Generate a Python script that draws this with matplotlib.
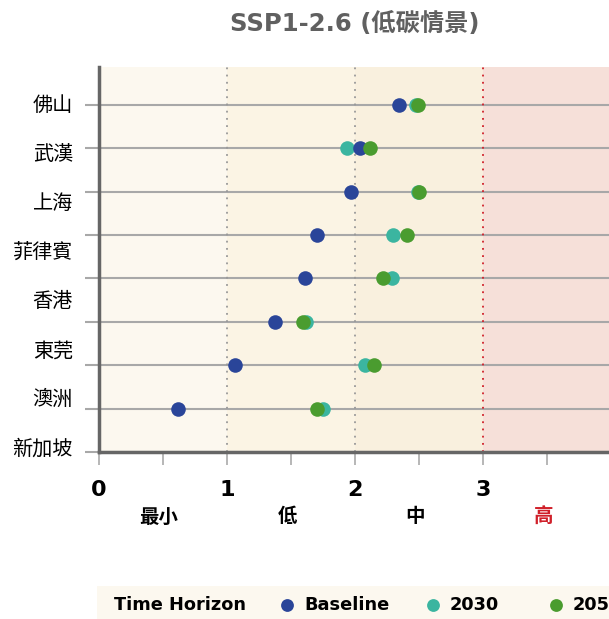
import numpy as np
import matplotlib.pyplot as plt
import matplotlib.transforms as mtransforms

# Data
cities = ["佛山", "武漢", "上海", "菲律賓", "香港", "東莞", "澳洲", "新加坡"]
baseline = [2.34, 2.04, 1.97, 1.70, 1.61, 1.375, 1.06, 0.62]
y2030 = [2.48, 1.935, 2.49, 2.30, 2.29, 1.62, 2.08, 1.75]
y2050 = [2.49, 2.12, 2.50, 2.41, 2.22, 1.59, 2.15, 1.70]
risk_levels = ["最小", "低", "中", "高"]
risk_colors = ["black", "black", "black", "#d0202a"]
band_colors = ["#fcf8ef", "#fbf4e4", "#f9f0de", "#f6e0d9"]

c_base, c_2030, c_2050 = "#2a4599", "#3bb5a0", "#4a9c2f"
latin = ["DejaVu Sans", "Noto Sans CJK TC"]
cjk = ["Noto Sans CJK TC", "DejaVu Sans"]

fig = plt.figure(figsize=(6.09, 6.19), dpi=100)
ax = fig.add_axes([99 / 609, 1 - 452 / 619, 512 / 609, (452 - 67) / 619])

# background bands
for i, col in enumerate(band_colors):
    ax.axvspan(i, i + 1, color=col, zorder=0, lw=0)

ypos = np.arange(len(cities))
ax.set_xlim(0, 4)
ax.set_ylim(len(cities), -0.875)

# horizontal grid lines
for y in range(len(cities) + 1):
    ax.axhline(y, color="#a8a8a8", lw=1.5, zorder=1)

# dotted threshold lines
for x, col in [(1, "#999999"), (2, "#999999"), (3, "#d0202a")]:
    ax.axvline(x, color=col, lw=1.3, ls=(0, (1, 3)), zorder=1, clip_on=False)

ax.scatter(y2030, ypos, s=110, color=c_2030, zorder=3, lw=0)
ax.scatter(baseline, ypos, s=110, color=c_base, zorder=4, lw=0)
ax.scatter(y2050, ypos, s=110, color=c_2050, zorder=5, lw=0)

# spines
for s in ["top", "right"]:
    ax.spines[s].set_visible(False)
for s in ["left", "bottom"]:
    ax.spines[s].set_color("#666666")
    ax.spines[s].set_linewidth(2.5)
    ax.spines[s].set_zorder(6)

# x ticks
ax.set_xticks([0, 1, 2, 3])
ax.set_xticklabels(["0", "1", "2", "3"], fontsize=16, fontweight="bold", family=latin)
ax.set_xticks(np.arange(0.5, 4, 1), minor=True)
ax.tick_params(axis="x", which="both", direction="out", length=9, width=1.2, color="#aaaaaa", pad=11)

# y ticks (labels drawn separately)
ax.set_yticks(np.arange(len(cities) + 1))
ax.set_yticklabels([])
ax.tick_params(axis="y", direction="out", length=10, width=1.5, color="#a8a8a8")

trans = mtransforms.blended_transform_factory(ax.transAxes, ax.transData)
label_pos = np.linspace(0, 7.93, len(cities))
for name, yl in zip(cities, label_pos):
    ax.text(-0.051, yl, name, transform=trans, ha="right", va="center",
            fontsize=14.5, family=cjk)

# risk level labels
trans_x = mtransforms.blended_transform_factory(ax.transData, fig.transFigure)
for i, (lab, col) in enumerate(zip(risk_levels, risk_colors)):
    ax.text(i + 0.47, 1 - 517 / 619, lab, transform=trans_x, ha="center", va="center",
            fontsize=14, fontweight="bold", color=col, family=cjk)

# title
fig.text(355 / 609, 1 - 24 / 619, "SSP1-2.6 (低碳情景)", ha="center", va="center",
         fontsize=17.5, fontweight="bold", color="#606060", family=latin)

# legend strip
lax = fig.add_axes([97 / 609, 0, 1 - 97 / 609, 33 / 619])
lax.set_facecolor("#fcf8ef")
lax.set_xlim(97, 609)
lax.set_ylim(0, 33)
for s in lax.spines.values():
    s.set_visible(False)
lax.set_xticks([])
lax.set_yticks([])
ly = 14
lax.text(114, ly, "Time Horizon", fontsize=12.8, fontweight="bold", va="center", family=latin)
for xm, col, lab in [(287, c_base, "Baseline"), (433, c_2030, "2030"), (556, c_2050, "2050")]:
    lax.scatter([xm], [ly], s=85, color=col, lw=0, clip_on=False)
    lax.text(xm + 17, ly, lab, fontsize=12.8, fontweight="bold", va="center", family=latin,
             clip_on=True)

fig.savefig("out.png", dpi=100)
